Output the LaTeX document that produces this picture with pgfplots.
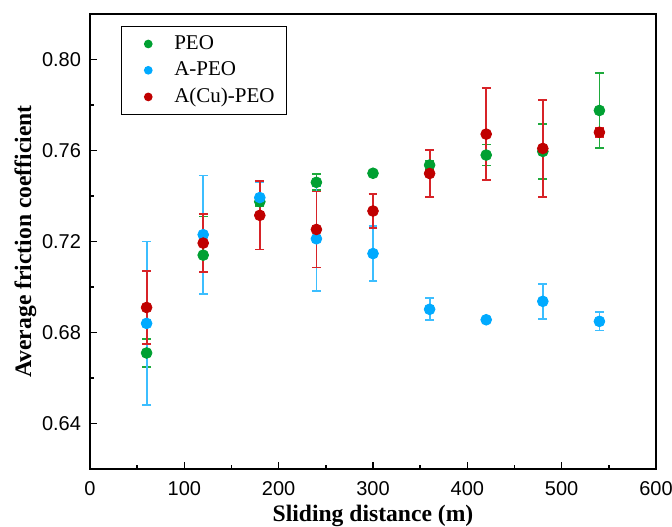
\documentclass[border=0pt]{standalone}
\usepackage{fontspec}
\setmainfont{Liberation Serif}
\newfontfamily\arial{Liberation Sans}
\usepackage{pgfplots}
\pgfplotsset{compat=1.18}
\definecolor{cgreen}{RGB}{0,160,50}
\definecolor{cblue}{RGB}{0,170,255}
\definecolor{cred}{RGB}{192,0,0}
\definecolor{egreen}{RGB}{30,170,60}
\definecolor{eblue}{RGB}{60,190,255}
\definecolor{ered}{RGB}{215,35,40}
\begin{document}
\begin{tikzpicture}
\begin{axis}[
  name=ax,
  scale only axis,
  width=283pt, height=227.5pt,
  xmin=0, xmax=600, ymin=0.62, ymax=0.82,
  xtick={0,100,...,600},
  ytick={0.64,0.68,0.72,0.76,0.80},
  minor x tick num=1, minor y tick num=1,
  xtick pos=left, ytick pos=left,
  tick align=inside,
  major tick length=3.5pt, minor tick length=1.8pt,
  axis line style={line width=0.9pt},
  every tick/.style={line width=0.8pt, black},
  ticklabel style={font=\arial\fontsize{10}{12}\selectfont},
  xticklabel style={yshift=-2.5pt},
  yticklabel style={xshift=-1pt, /pgf/number format/fixed, /pgf/number format/precision=2, /pgf/number format/fixed zerofill},
  /pgf/number format/assume math mode=true,
  scaled y ticks=false,
  xlabel={\textbf{Sliding distance (m)}},
  ylabel={\textbf{Average friction coefficient}},
  label style={font=\fontsize{11.8}{13}\selectfont},
  xlabel style={yshift=2pt},
  ylabel style={yshift=-4pt},
  legend style={at={(0.054,0.974)}, anchor=north west, draw=black, line width=0.7pt,
    font=\fontsize{10.5}{12.6}\selectfont, row sep=0.7pt, inner xsep=4pt, inner ysep=2.5pt},
  legend cell align=left,
  legend image code/.code={\path[draw=none] (0pt,0pt) -- (20.5pt,0pt); \fill (9.5pt,0pt) circle (1.8pt);},
]
\addplot[only marks, mark=*, mark size=2.7pt, color=cgreen, mark options={draw=cgreen, fill=cgreen},
  error bars/.cd, y dir=both, y explicit,
  error bar style={draw=egreen, line width=0.9pt},
  error mark options={rotate=90, mark size=2.2pt, line width=0.9pt, draw=egreen}]
  table[x=x, y=y, y error=e] {
x y e
60 0.671 0.006
120 0.714 0.017
180 0.7375 0.002
240 0.746 0.0035
300 0.750 0.001
360 0.7536 0.002
420 0.758 0.0046
480 0.7596 0.012
540 0.7776 0.0166
};
\addlegendentry{PEO}
\addplot[only marks, mark=*, mark size=2.7pt, color=cblue, mark options={draw=cblue, fill=cblue},
  error bars/.cd, y dir=both, y explicit,
  error bar style={draw=eblue, line width=0.9pt},
  error mark options={rotate=90, mark size=2.2pt, line width=0.9pt, draw=eblue}]
  table[x=x, y=y, y error=e] {
x y e
60 0.684 0.036
120 0.723 0.026
180 0.7393 0.0067
240 0.7212 0.023
300 0.7147 0.0122
360 0.6902 0.0048
420 0.6856 0.001
480 0.6937 0.0076
540 0.6849 0.004
};
\addlegendentry{A-PEO}
\addplot[only marks, mark=*, mark size=2.7pt, color=cred, mark options={draw=cred, fill=cred},
  error bars/.cd, y dir=both, y explicit,
  error bar style={draw=ered, line width=0.9pt},
  error mark options={rotate=90, mark size=2.2pt, line width=0.9pt, draw=ered}]
  table[x=x, y=y, y error=e] {
x y e
60 0.691 0.016
120 0.7193 0.0128
180 0.7315 0.015
240 0.7253 0.0167
300 0.7334 0.0075
360 0.7499 0.0104
420 0.7672 0.0203
480 0.7609 0.0213
540 0.768 0.002
};
\addlegendentry{A(Cu)-PEO}
\end{axis}
\pgfresetboundingbox
\path[use as bounding box] ([shift={(-45pt,-28.5pt)}]ax.south west) rectangle ([shift={(8pt,7pt)}]ax.north east);
\end{tikzpicture}
\end{document}
